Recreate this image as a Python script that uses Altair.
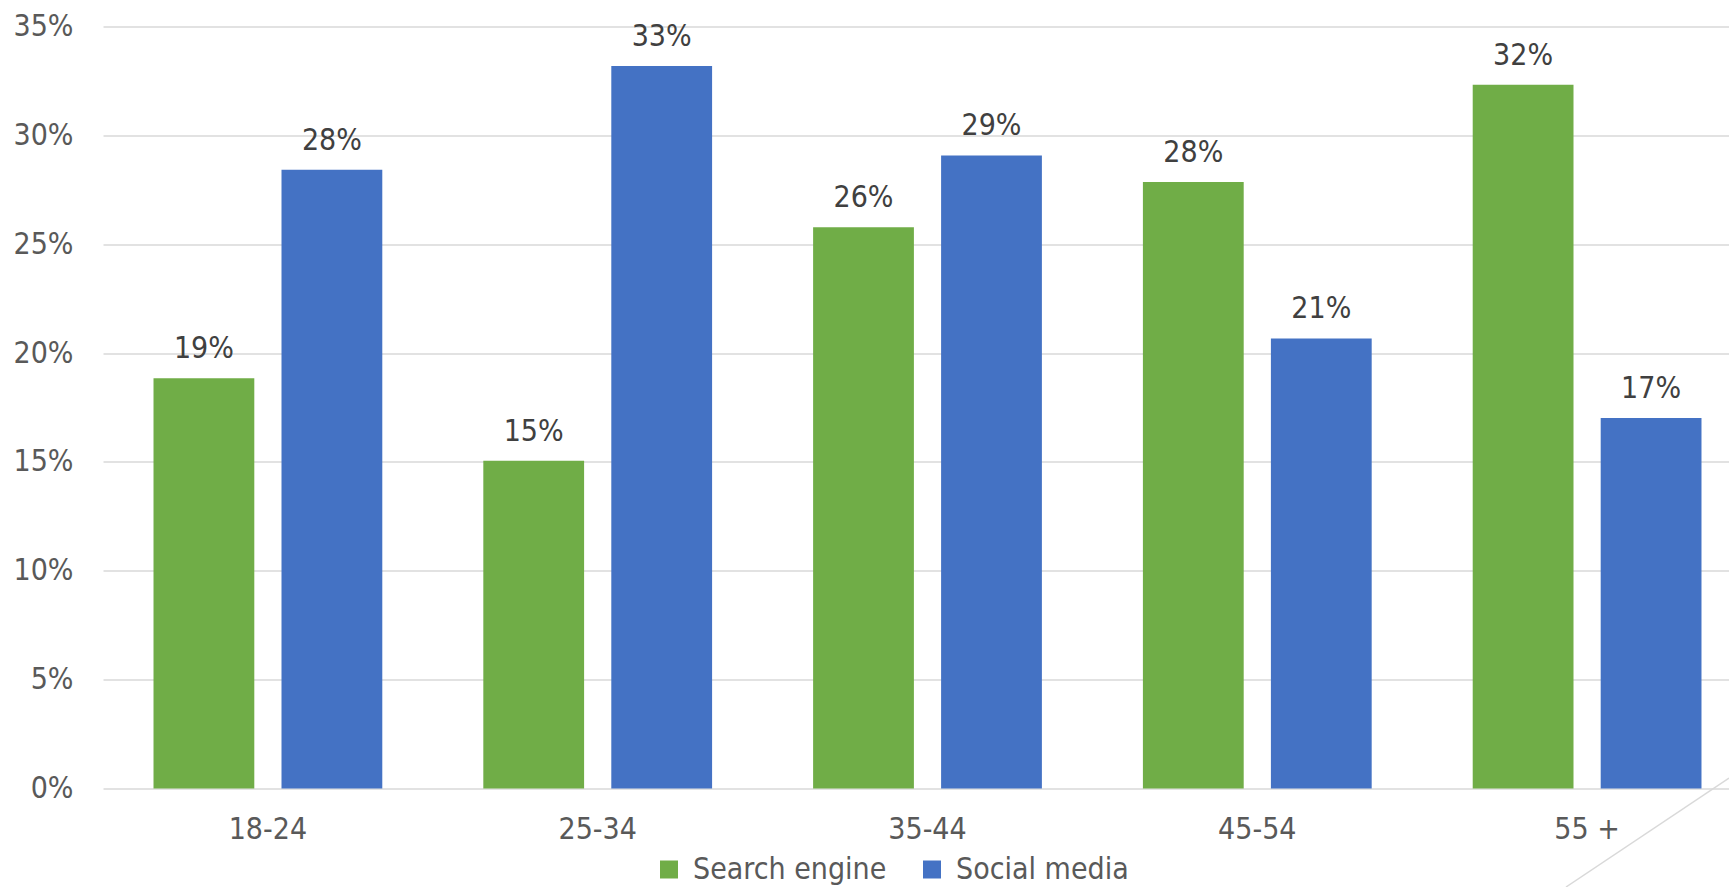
import altair as alt
import pandas as pd

ages = ["18-24", "25-34", "35-44", "45-54", "55 +"]
series = ["Search engine", "Social media"]
search_engine = [0.1884, 0.1505, 0.2578, 0.2786, 0.3232]
social_media = [0.2842, 0.3318, 0.2908, 0.2067, 0.1702]
colors = ["#70AD47", "#4472C4"]
y_ticks = [0, 0.05, 0.10, 0.15, 0.20, 0.25, 0.30, 0.35]

rows = []
for i, a in enumerate(ages):
    rows.append({"age": a, "series": series[0], "value": search_engine[i]})
    rows.append({"age": a, "series": series[1], "value": social_media[i]})
df = pd.DataFrame(rows)

FONT = "Liberation Sans Narrow, Arial Narrow, DejaVu Sans Condensed, sans-serif"
AX = "#595959"
FS = 30

x = alt.X(
    "age:N", sort=ages, title=None,
    scale=alt.Scale(range=[0, 1649], paddingInner=0.3063, paddingOuter=0.15315),
    axis=alt.Axis(labelAngle=0, domain=False, ticks=False, tickSize=0,
                  labelFont=FONT, labelFontSize=FS, labelColor=AX,
                  labelPadding=41, labelBaseline="middle"),
)
xo = alt.XOffset("series:N", sort=series,
                 scale=alt.Scale(paddingInner=0.2125, paddingOuter=0))
y = alt.Y(
    "value:Q", title=None,
    scale=alt.Scale(domain=[0, 0.35], nice=False),
    axis=alt.Axis(values=y_ticks, format=".0%", domain=False, ticks=False, tickSize=0,
                  grid=True, gridColor="#d9d9d9", gridWidth=1.6,
                  labelFont=FONT, labelFontSize=FS, labelColor=AX, labelPadding=30),
)

bars = alt.Chart(df).mark_bar().encode(
    x=x, xOffset=xo, y=y,
    color=alt.Color(
        "series:N", sort=series,
        scale=alt.Scale(domain=series, range=colors),
        legend=alt.Legend(
            title=None, orient="none", legendX=551, legendY=828,
            direction="horizontal", symbolType="square", symbolSize=324,
            symbolStrokeWidth=0, symbolOpacity=1,
            labelFont=FONT, labelFontSize=FS, labelColor=AX, labelLimit=0,
            labelOffset=9, columnPadding=30, padding=0,
        ),
    ),
)

labels = alt.Chart(df).mark_text(
    baseline="alphabetic", dy=-20, font=FONT, fontSize=FS, color="#404040"
).encode(
    x=x, xOffset=xo, y=y,
    text=alt.Text("value:Q", format=".0%"),
)

corner = alt.Chart(pd.DataFrame({"d": [0]})).mark_rule(
    color="#d9d9d9", strokeWidth=1.5
).encode(
    x=alt.value(1626), y=alt.value(751.5), x2=alt.value(1463), y2=alt.value(860.5)
)

chart = alt.layer(bars, labels, corner).properties(
    width=1626, height=762,
    autosize=alt.AutoSizeParams(type="none"),
    padding={"left": 103, "top": 26.5, "right": 0, "bottom": 98},
    background="white",
).configure_view(stroke=None)

chart.save("out.html", embed_options={"renderer": "svg", "actions": False})
